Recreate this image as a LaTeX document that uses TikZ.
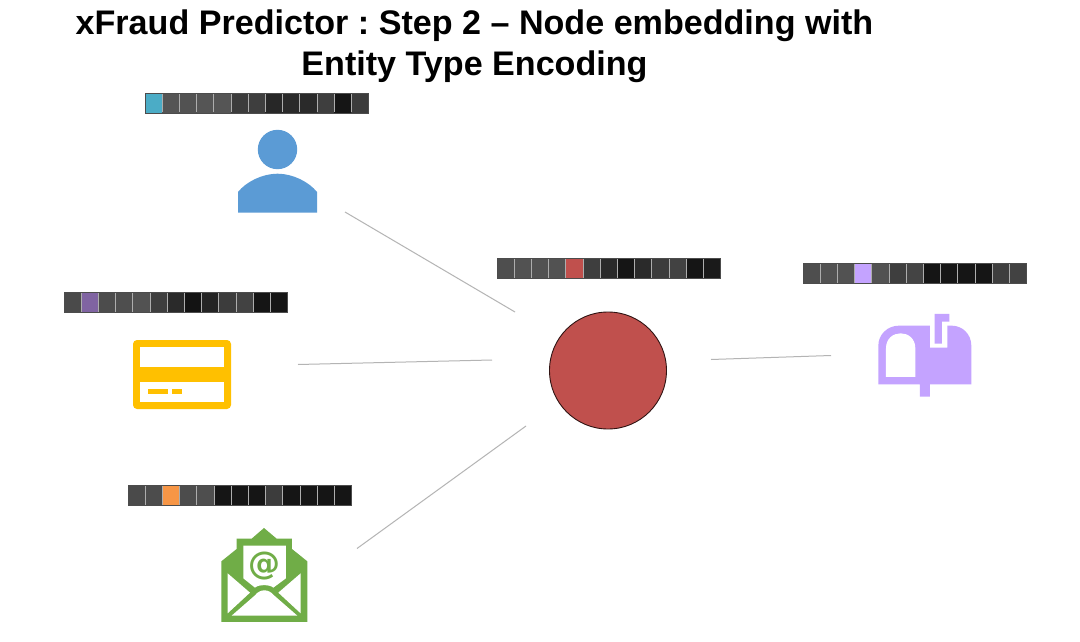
\documentclass[tikz,border=0pt]{standalone}
\usepackage{fontspec}
\setmainfont{Liberation Sans}
\newfontfamily\iconfont{DejaVu Sans}
\definecolor{hubred}{HTML}{C0504D}
\definecolor{linegray}{HTML}{B4B4B4}
\definecolor{personblue}{HTML}{5B9BD5}
\definecolor{cardgold}{HTML}{FFC000}
\definecolor{mailgreen}{HTML}{70AD47}
\definecolor{boxlilac}{HTML}{C4A3FF}
\tikzset{
  x=1pt,y=-1pt,
  link/.style={draw=linegray,line width=1pt},
  hub/.style={circle,draw=black!75!hubred,line width=0.9pt,fill=hubred,minimum size=117pt,inner sep=0pt},
  titletext/.style={font=\frenchspacing\bfseries\fontsize{34.1}{41}\selectfont,align=center,text=black,inner sep=0pt},
  iconbox/.style={inner sep=0pt,outer sep=0pt,draw=none,rectangle},
}
\newcommand{\embar}[3]{%
  \foreach \c [count=\i from 0] in {#3}{%
    \definecolor{cellc}{HTML}{\c}%
    \fill[cellc] ({#1+\i*17.2},#2) rectangle ({#1+(\i+1)*17.2},#2+20);
  }
  \foreach \i in {1,...,12}{%
    \draw[white!68!black,line width=0.7pt] ({#1+\i*17.2},#2+0.5) -- ({#1+\i*17.2},#2+19.5);
  }
  \draw[black!70,line width=0.6pt] (#1,#2) rectangle ({#1+13*17.2},#2+20);
}
\begin{document}
\begin{tikzpicture}
\useasboundingbox[fill=white] (0,0) rectangle (1080,642);
\node[titletext] (title) at (474.5,46.5) {xFraud Predictor : Step 2 – Node embedding with\\Entity Type Encoding};

% embedding bars
\embar{145}{93}{4BACC6,555555,525252,555555,555555,3C3C3C,3E3E3E,272727,2A2A2A,2A2A2A,3E3E3E,151515,3C3C3C}
\embar{64}{292}{4A4A4A,8064A2,4C4C4C,4E4E4E,525252,3E3E3E,2A2A2A,131313,242424,3C3C3C,424242,151515,151515}
\embar{128}{485}{4A4A4A,4C4C4C,F79646,4C4C4C,4E4E4E,151515,151515,151515,3C3C3C,151515,151515,151515,151515}
\embar{497}{258}{4E4E4E,525252,525252,525252,C0504D,3E3E3E,2A2A2A,151515,2A2A2A,3C3C3C,424242,151515,1A1A1A}
\embar{803}{263}{4E4E4E,525252,525252,C4A3FF,525252,3E3E3E,444444,151515,151515,151515,151515,3E3E3E,424242}

% centre node
\node[hub] (center) at (608,370.5) {};

% icon anchors
\node[iconbox,minimum width=79pt,minimum height=83pt] (person) at (277.5,171) {};
\node[iconbox,minimum width=98pt,minimum height=69pt] (card) at (182,374.5) {};
\node[iconbox,minimum width=86pt,minimum height=94pt] (mail) at (264,575) {};
\node[iconbox,minimum width=93pt,minimum height=83pt] (box) at (925,355) {};

% person
\fill[personblue] (277.5,149.5) circle (19.7);
\fill[personblue] (238,212.5) -- (238,192)
  .. controls (246,182) and (262,173.7) .. (277.5,173.7)
  .. controls (293,173.7) and (309,182) .. (317,192) -- (317,212.5) -- cycle;

% card
\fill[cardgold,rounded corners=4pt] (133,340) rectangle (231,409);
\fill[white] (140.3,347.3) rectangle (223.7,367);
\fill[white] (140.3,382) rectangle (223.7,401.5);
\fill[cardgold] (148,389) rectangle (167.5,394);
\fill[cardgold] (172,389) rectangle (182,394);

% envelope
\begin{scope}[shift={(120,478)},x=0.3333pt,y=-0.3333pt]
\fill[mailgreen] (304,250) -- (350,213) -- (350,182) -- (395,182) -- (432,150) -- (470,182)
  -- (516,182) -- (516,213) -- (562,250) -- (562,432) -- (304,432) -- cycle;
\fill[white] (370,203) -- (498,203) -- (498,301) -- (460,329)
  .. controls (450,319) and (415,319) .. (405,329) -- (370,301) -- cycle;
\fill[white] (323,286) -- (390,344) -- (323,406) -- cycle;
\fill[white] (542,286) -- (475,344) -- (542,406) -- cycle;
\fill[white] (335,413) -- (405,352) .. controls (420,332) and (446,332) .. (462,352) -- (532,413) -- cycle;
\end{scope}
\node[inner sep=0pt,text=mailgreen,font=\iconfont\bfseries\fontsize{32}{32}\selectfont] (at) at (264.5,566.5) {@};

% mailbox
\begin{scope}[shift={(795,255)},x=0.3333pt,y=-0.3333pt]
\fill[boxlilac] (250,388) -- (250,272) .. controls (250,238) and (278,212) .. (312,212)
  -- (405,212) -- (405,278) -- (457,278) -- (457,212) -- (470,212)
  .. controls (503,212) and (529,238) .. (529,272) -- (529,388) -- (405,388)
  -- (405,425) -- (375,425) -- (375,388) -- cycle;
\fill[white] (273,366) -- (273,280) .. controls (273,250) and (295,235) .. (317,235)
  .. controls (339,235) and (361,250) .. (361,280) -- (361,366) -- cycle;
\fill[boxlilac] (419,177) -- (463,177) -- (463,200) -- (441,200) -- (441,266) -- (419,266) -- cycle;
\end{scope}

% connector ends
\coordinate (personend) at (345,212);
\coordinate (personhub) at (515,312);
\coordinate (cardend) at (298,364.5);
\coordinate (cardhub) at (492,360);
\coordinate (mailend) at (357,548.5);
\coordinate (mailhub) at (526,426);
\coordinate (boxhub) at (711,359.5);
\coordinate (boxend) at (831,355.5);
\draw[link] (personend) -- (personhub);
\draw[link] (cardend) -- (cardhub);
\draw[link] (mailend) -- (mailhub);
\draw[link] (boxhub) -- (boxend);
\end{tikzpicture}
\end{document}
